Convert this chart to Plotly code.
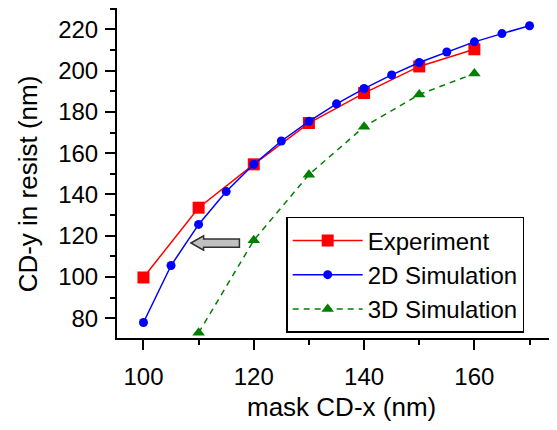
import plotly.graph_objects as go

# Data
exp_x = [100, 110, 120, 130, 140, 150, 160]
exp_y = [99.8, 133.6, 154.6, 174.6, 189.1, 202.0, 210.3]

sim2d_x = [100, 105, 110, 115, 120, 125, 130, 135, 140, 145, 150, 155, 160, 165, 170]
sim2d_y = [78.0, 105.6, 125.5, 141.4, 154.6, 165.9, 175.4, 183.9, 191.3, 197.9, 203.9, 209.0, 213.9, 217.9, 221.7]

sim3d_x = [110, 120, 130, 140, 150, 160]
sim3d_y = [73.0, 117.8, 149.6, 172.8, 188.4, 198.6]

x_ticks = [100, 120, 140, 160]
y_ticks = [80, 100, 120, 140, 160, 180, 200, 220]

x_title = "mask CD-x (nm)"
y_title = "CD-y in resist (nm)"

# Block-arrow annotation (data coordinates)
arrow_tip_x, arrow_tail_x, arrow_y = 108.6, 117.4, 116.5
arrow_head_x = 110.9
arrow_body_half, arrow_head_half = 2.0, 3.5

FONT = "Liberation Sans, Arial, sans-serif"

fig = go.Figure()
fig.add_trace(go.Scatter(
    x=exp_x, y=exp_y, name="Experiment", mode="lines+markers",
    line=dict(color="#ff0000", width=1.5),
    marker=dict(symbol="square", size=12, color="#ff0000"),
))
fig.add_trace(go.Scatter(
    x=sim2d_x, y=sim2d_y, name="2D Simulation", mode="lines+markers",
    line=dict(color="#0000ff", width=1.5),
    marker=dict(symbol="circle", size=9, color="#0000ff"),
))
fig.add_trace(go.Scatter(
    x=sim3d_x, y=sim3d_y, name="3D Simulation", mode="lines+markers",
    line=dict(color="#008000", width=1.5, dash="6px,5px"),
    marker=dict(symbol="triangle-up", size=11, color="#008000"),
))

path = (
    f"M {arrow_tip_x},{arrow_y} "
    f"L {arrow_head_x},{arrow_y + arrow_head_half} "
    f"L {arrow_head_x},{arrow_y + arrow_body_half} "
    f"L {arrow_tail_x},{arrow_y + arrow_body_half} "
    f"L {arrow_tail_x},{arrow_y - arrow_body_half} "
    f"L {arrow_head_x},{arrow_y - arrow_body_half} "
    f"L {arrow_head_x},{arrow_y - arrow_head_half} Z"
)
fig.add_shape(type="path", path=path, xref="x", yref="y",
              fillcolor="#c0c0c0", line=dict(color="#303030", width=1.5))

axis_common = dict(
    showline=True, linecolor="black", linewidth=2, mirror="allticks",
    ticks="outside", ticklen=10, tickwidth=1.5, tickcolor="black",
    showgrid=False, zeroline=False, automargin=False,
    tickfont=dict(family=FONT, size=24, color="black"),
)

fig.update_xaxes(
    range=[95.2, 174.8], tickvals=x_ticks, ticklabelstandoff=6,
    minor=dict(dtick=10, tick0=100, ticks="outside", ticklen=5, tickwidth=1.5, tickcolor="black"),
    **axis_common,
)
fig.update_yaxes(
    range=[70.5, 230.3], tickvals=y_ticks, ticklabelstandoff=2,
    minor=dict(dtick=10, tick0=80, ticks="outside", ticklen=5, tickwidth=1.5, tickcolor="black"),
    **axis_common,
)

fig.add_annotation(text=x_title, xref="paper", yref="paper", x=0.5106, y=-0.209,
                   xanchor="center", yanchor="middle", showarrow=False,
                   font=dict(family=FONT, size=26, color="black"))
fig.add_annotation(text=y_title, xref="paper", yref="paper", x=-0.2019, y=0.4667,
                   xanchor="center", yanchor="middle", showarrow=False, textangle=-90,
                   font=dict(family=FONT, size=26, color="black"))

fig.update_layout(
    width=549, height=422,
    margin=dict(l=109, r=1, t=0, b=92),
    paper_bgcolor="white", plot_bgcolor="white",
    showlegend=True,
    legend=dict(
        x=0.3854, y=0.367, xanchor="left", yanchor="top",
        bordercolor="black", borderwidth=1.5, bgcolor="white",
        font=dict(family=FONT, size=24, color="black"),
        itemwidth=70, tracegroupgap=0,
    ),
)

fig.write_html("out.html")
